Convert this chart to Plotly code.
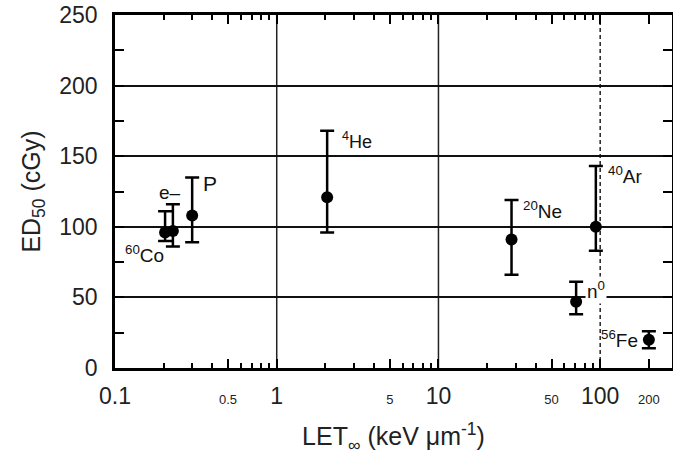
import numpy as np
import plotly.graph_objects as go

# ---- data ----
particles = ["60Co", "e-", "P", "4He", "20Ne", "40Ar", "n0", "56Fe"]
let_values = [0.204, 0.228, 0.30, 2.05, 28.3, 94, 71, 200]
ed50 = [96, 97, 108, 121, 91, 100, 47, 20]
err_top = [111, 116, 135, 168, 119, 143, 61, 26]
err_bottom = [90, 86, 89, 96, 66, 83, 38, 14]

label_text = ["<sup>60</sup>Co", "e–", "P", "<sup>4</sup>He", "<sup>20</sup>Ne",
              "<sup>40</sup>Ar", "n<sup>0</sup>", "<sup>56</sup>Fe"]
label_x = [0.153, 0.218, 0.385, 3.12, 44, 142, 94, 131]
label_y = [81, 124, 131, 161, 112, 137, 55, 20.5]
label_size = [19, 19, 21, 18, 19, 19, 19, 19]

x_tickvals = [0.1, 0.5, 1, 5, 10, 50, 100, 200]
x_major = [0.1, 1, 10, 100]
y_tickvals = [0, 50, 100, 150, 200, 250]

FONT = "Liberation Sans, Arial, Helvetica, sans-serif"

x_ticktext = [str(v) if v in x_major else f"<span style='font-size:13px'>{v:g}</span>"
              for v in x_tickvals]
minor_vals = [m * 10.0 ** d for d in range(-1, 3) for m in range(2, 10)]

plus = [t - v for t, v in zip(err_top, ed50)]
minus = [v - b for v, b in zip(ed50, err_bottom)]

fig = go.Figure()
fig.add_trace(go.Scatter(
    x=let_values, y=ed50, mode="markers",
    marker=dict(color="black", size=12),
    error_y=dict(type="data", symmetric=False, array=plus, arrayminus=minus,
                 color="black", thickness=2.5, width=7),
    showlegend=False,
))

# vertical reference lines
for xv, dash, w in [(1, "solid", 1.5), (10, "solid", 1.5), (100, "4px,3px", 1.5)]:
    fig.add_shape(type="line", xref="x", yref="paper", x0=xv, x1=xv, y0=0, y1=1,
                  line=dict(color="#222", width=w, dash=dash), layer="below")

for txt, lx, ly, p, s in zip(label_text, label_x, label_y, particles, label_size):
    fig.add_annotation(
        x=np.log10(lx), y=ly, xref="x", yref="y", text=txt, showarrow=False,
        font=dict(family=FONT, size=s, color="#111"),
        bgcolor="white" if p == "n0" else None,
        xanchor="center", yanchor="middle",
    )

fig.update_xaxes(
    type="log", range=[-1, np.log10(278)], automargin=False,
    tickmode="array", tickvals=x_tickvals, ticktext=x_ticktext,
    ticks="inside", ticklen=9, tickwidth=2, tickcolor="black",
    minor=dict(tickmode="array", tickvals=minor_vals, ticks="inside",
               ticklen=5, tickwidth=1.5, tickcolor="black", showgrid=False),
    showline=True, linecolor="black", linewidth=2.5, mirror="ticks",
    showgrid=False, zeroline=False, ticklabelstandoff=6,
    tickfont=dict(family=FONT, size=23, color="#222"),
    title=dict(text="LET<sub>∞</sub> (keV μm<sup>-1</sup>)",
               font=dict(family=FONT, size=25, color="#222"), standoff=20),
)
fig.update_yaxes(
    range=[0, 250], tickmode="array", tickvals=y_tickvals, automargin=False,
    ticks="inside", ticklen=9, tickwidth=2, tickcolor="black",
    minor=dict(dtick=25, ticks="inside", ticklen=9, tickwidth=2,
               tickcolor="black", showgrid=False),
    showline=True, linecolor="black", linewidth=2.5, mirror="ticks",
    showgrid=True, gridcolor="#111", gridwidth=2, zeroline=False,
    ticklabelstandoff=10,
    tickfont=dict(family=FONT, size=23, color="#222"),
    title=dict(text="ED<sub>50</sub> (cGy)",
               font=dict(family=FONT, size=25, color="#222"), standoff=12),
)

fig.update_layout(
    width=673, height=457,
    margin=dict(l=115, r=1, t=15, b=89),
    plot_bgcolor="white", paper_bgcolor="white",
    font=dict(family=FONT),
)

fig.write_html("out.html", config={"displayModeBar": False},
               post_script="document.body.style.margin='0px';")
